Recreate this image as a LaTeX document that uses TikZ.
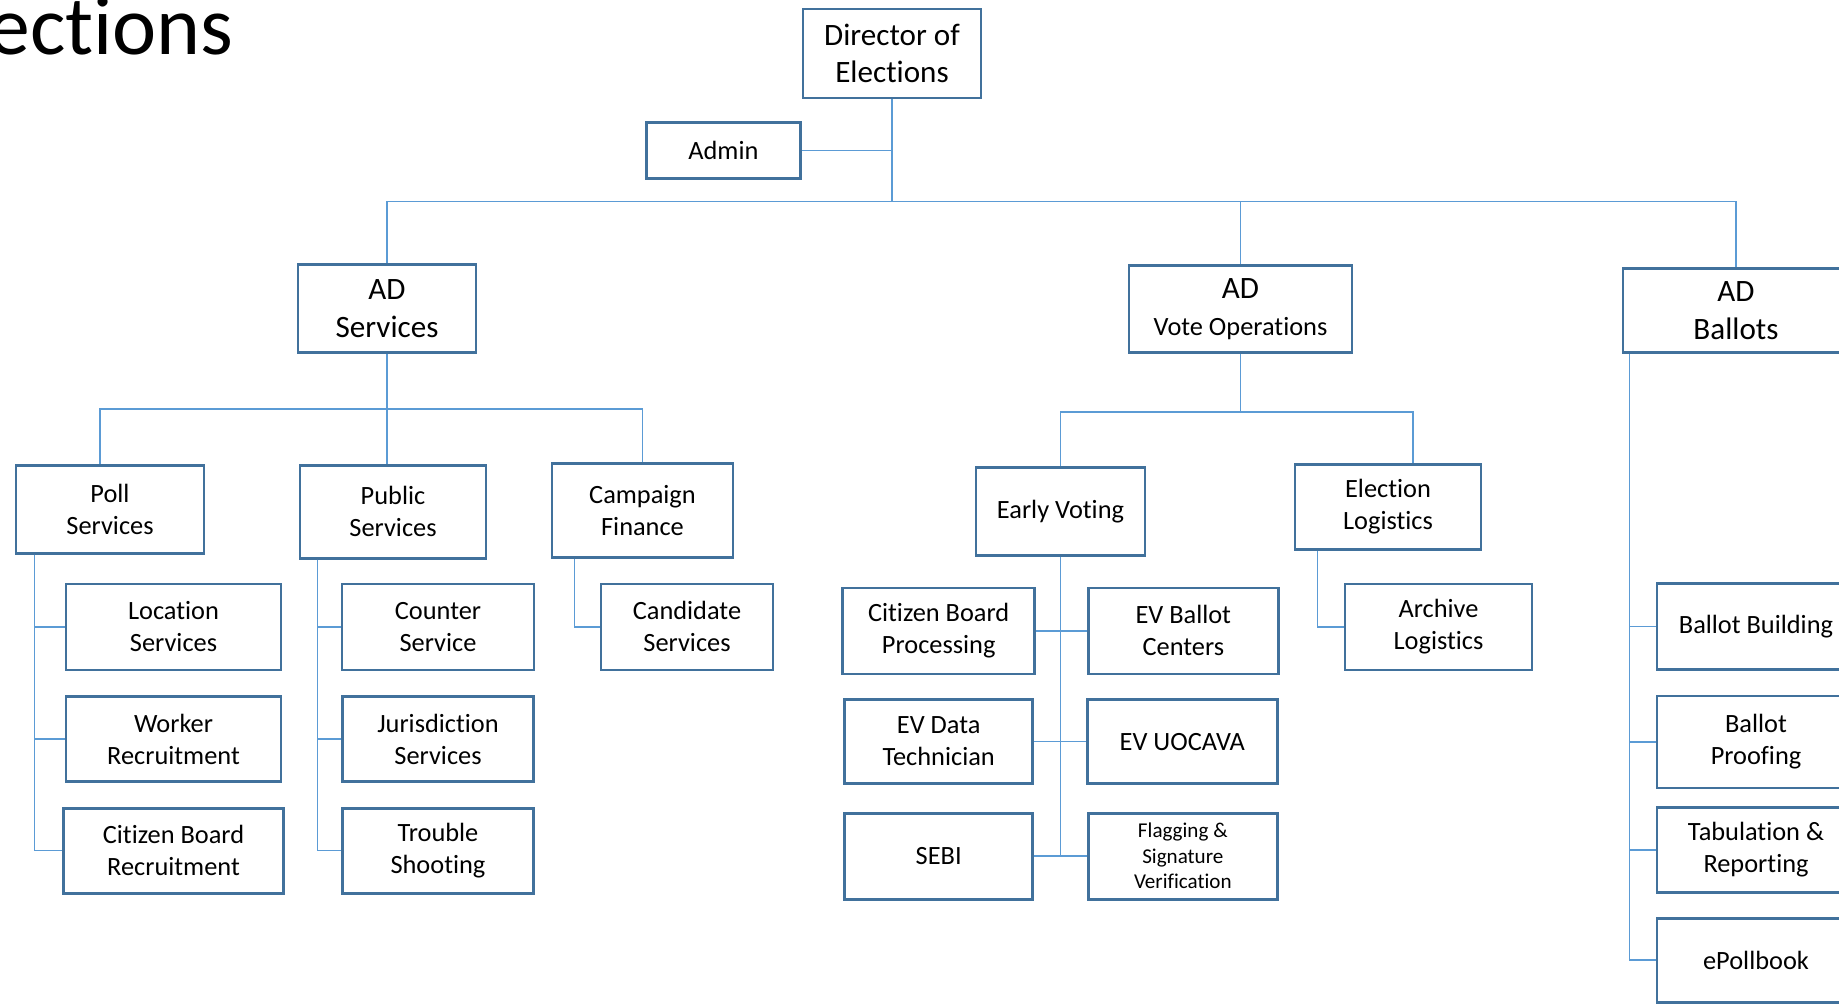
\documentclass[tikz,border=0pt]{standalone}
\usepackage{fontspec}
\setmainfont{Carlito}[Ligatures=NoCommon]
\usetikzlibrary{positioning, calc}
\definecolor{boxblue}{HTML}{41719C}
\definecolor{linkblue}{HTML}{5B9BD5}

\begin{document}
\begin{tikzpicture}[
		font=\fontsize{15}{18.2}\selectfont,
		every node/.style={draw=boxblue, line width=1.5pt, rectangle, fill=white, align=center, inner sep=1pt},
		big/.style={font=\fontsize{17.7}{21.5}\selectfont},
		small/.style={font=\fontsize{12}{14.5}\selectfont},
		link/.style={draw=linkblue, line width=0.85pt}
		]
		
		\useasboundingbox (0,0) rectangle (36.78,-20.08);
		\clip (0,0) rectangle (36.78,-20.08);
		
		% Title (cut by the page)
		\node (title) [draw=none, fill=none, inner sep=0pt, anchor=base east, font=\fontsize{47.6}{57}\selectfont] at (4.70,-1.08) {Elections};
		
		% Director
		\node (dir) [big, minimum width=3.56cm, minimum height=1.78cm] at (17.84,-1.07) {Director of\\Elections};
		\node (admin) [below left=0.44cm and 0cm of dir, minimum width=3.08cm, minimum height=1.12cm] {Admin};
		
		% Assistant directors
		\node (adsvc) [below=3.28cm of dir, xshift=-10.1cm, big, minimum width=3.56cm, minimum height=1.76cm] {AD\\Services};
		\node (advote) [below=3.30cm of dir, xshift=6.97cm, big, minimum width=4.46cm, minimum height=1.74cm]
		{AD\\\fontsize{15}{18.2}\selectfont Vote Operations};
		\node (adball) [below=3.36cm of dir, xshift=16.88cm, big, minimum width=4.52cm, minimum height=1.68cm] {AD\\Ballots};
		
		% Services
		\node (poll) [below=2.20cm of adsvc, xshift=-5.54cm, minimum width=3.76cm, minimum height=1.76cm] {Poll\\Services};
		\node (pub) [below=2.20cm of adsvc, xshift=0.12cm, minimum width=3.72cm, minimum height=1.86cm] {Public\\Services};
		\node (camp) [below=2.16cm of adsvc, xshift=5.11cm, minimum width=3.62cm, minimum height=1.88cm] {Campaign\\Finance};
		
		\node (loc) [below right=0.56cm and 1.0cm of poll.south west, minimum width=4.30cm, minimum height=1.72cm] {Location\\Services};
		\node (work) [below=0.48cm of loc, minimum width=4.30cm, minimum height=1.70cm] {Worker\\Recruitment};
		\node (cbr) [below=0.48cm of work, minimum width=4.40cm, minimum height=1.70cm] {Citizen Board\\Recruitment};
		
		\node (counter) [below right=0.46cm and 0.84cm of pub.south west, minimum width=3.84cm, minimum height=1.72cm] {Counter\\Service};
		\node (juris) [below=0.48cm of counter, minimum width=3.82cm, minimum height=1.70cm] {Jurisdiction\\Services};
		\node (trouble) [below=0.48cm of juris, minimum width=3.82cm, minimum height=1.70cm] {Trouble\\Shooting};
		
		\node (cand) [below right=0.48cm and 0.98cm of camp.south west, minimum width=3.44cm, minimum height=1.72cm] {Candidate\\Services};
		
		% Vote operations
		\node (early) [below=2.24cm of advote, xshift=-3.6cm, minimum width=3.38cm, minimum height=1.76cm] {Early Voting};
		\node (elog) [below=2.18cm of advote, xshift=2.95cm, minimum width=3.72cm, minimum height=1.70cm] {Election\\Logistics};
		
		\node (cbp) [below left=0.60cm and 0.49cm of early.south, minimum width=3.84cm, minimum height=1.72cm] {Citizen Board\\Processing};
		\node (evb) [right=1.02cm of cbp, minimum width=3.80cm, minimum height=1.72cm] {EV Ballot\\Centers};
		\node (edt) [below=0.46cm of cbp, minimum width=3.76cm, minimum height=1.68cm] {EV Data\\Technician};
		\node (uoc) [right=1.04cm of edt, minimum width=3.80cm, minimum height=1.68cm] {EV UOCAVA};
		\node (sebi) [below=0.54cm of edt, minimum width=3.76cm, minimum height=1.72cm] {SEBI};
		\node (flag) [right=1.06cm of sebi, small, minimum width=3.78cm, minimum height=1.72cm] {Flagging \&\\Signature\\Verification};
		
		\node (arch) [below right=0.64cm and 1.0cm of elog.south west, minimum width=3.74cm, minimum height=1.72cm] {Archive\\Logistics};
		
		% Ballots
		\node (bb) [below right=4.56cm and 0.68cm of adball.south west, minimum width=3.96cm, minimum height=1.72cm] {Ballot Building};
		\node (bp) [below=0.48cm of bb, minimum width=3.96cm, minimum height=1.84cm] {Ballot\\Proofing};
		\node (tab) [below=0.34cm of bp, minimum width=3.96cm, minimum height=1.70cm] {Tabulation \&\\Reporting};
		\node (epb) [below=0.46cm of tab, minimum width=3.96cm, minimum height=1.68cm] {ePollbook};
		
		% Lines
		\draw[link] (dir.south) -- ++(0,-2.04) coordinate (topbar);
		\draw[link] (admin) -- (admin -| dir);
		\draw[link] (adsvc.north) |- (topbar) -| (adball.north);
		\draw[link] (topbar -| advote.north) -- (advote.north);
		
		\draw[link] (adsvc.south) -- ++(0,-1.10) coordinate (svcbar);
		\draw[link] ([xshift=-0.2cm]poll.north) |- (svcbar) -| (camp.north);
		\draw[link] (svcbar) -- (svcbar |- pub.north);
		\foreach \c in {loc,work,cbr}
		\draw[link] ([xshift=0.40cm]poll.south west) |- (\c.west);
		\foreach \c in {counter,juris,trouble}
		\draw[link] ([xshift=0.38cm]pub.south west) |- (\c.west);
		\draw[link] ([xshift=0.48cm]camp.south west) |- (cand.west);
		
		\draw[link] (advote.south) -- ++(0,-1.16) coordinate (votebar);
		\draw[link] (early.north) |- (votebar) -| ([xshift=0.5cm]elog.north);
		\draw[link] (early.south) -- (early.south |- sebi.east);
		\draw[link] (cbp) -- (evb);
		\draw[link] (edt) -- (uoc);
		\draw[link] (sebi) -- (flag);
		\draw[link] ([xshift=0.48cm]elog.south west) |- (arch.west);
		
		\foreach \c in {bb,bp,tab,epb}
		\draw[link] ([xshift=0.16cm]adball.south west) |- (\c.west);
		
	\end{tikzpicture}
\end{document}
